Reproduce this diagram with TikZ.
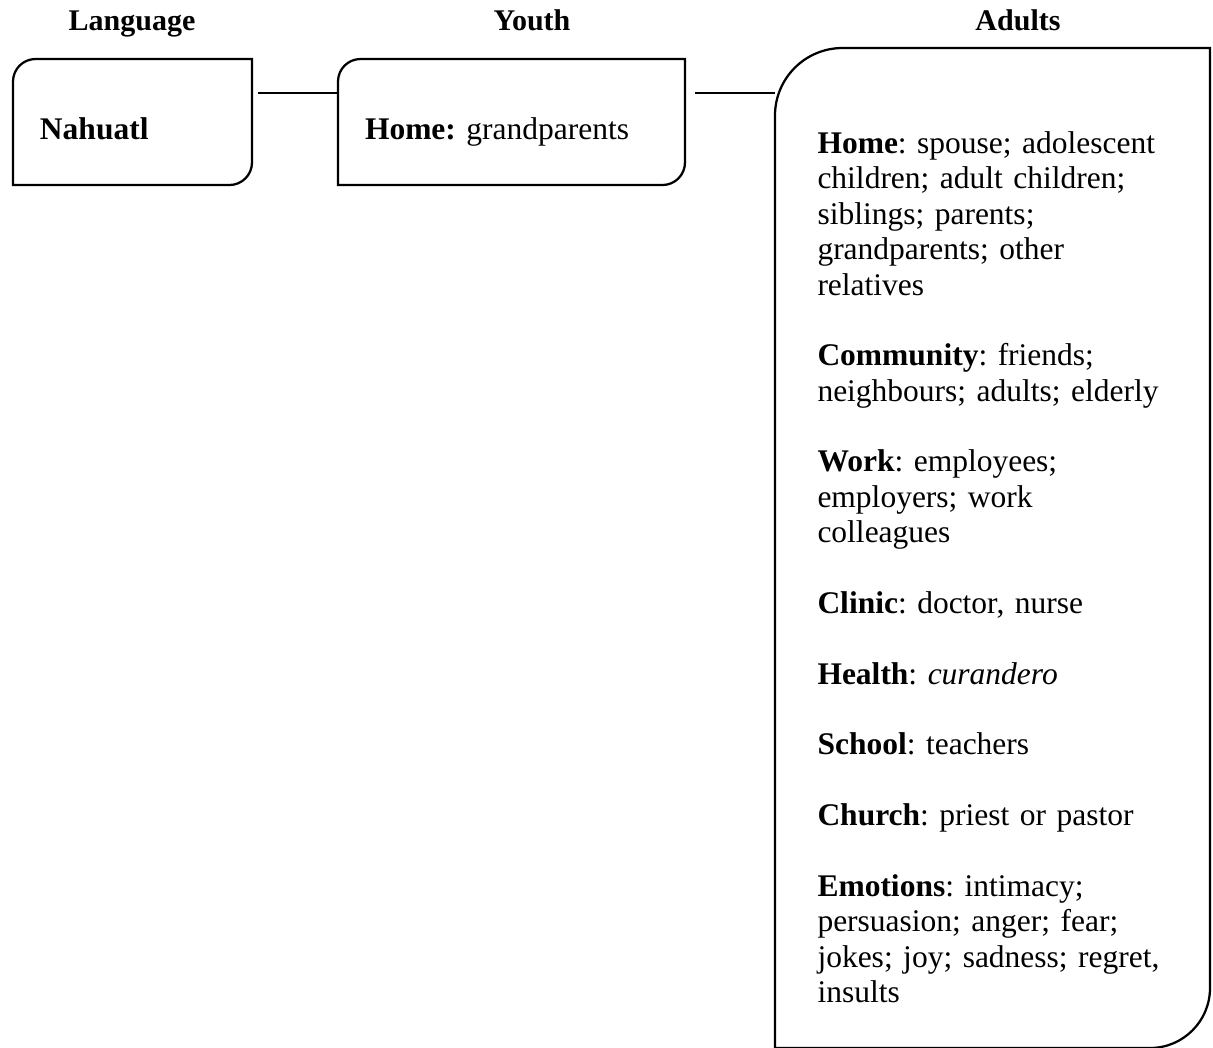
\documentclass[tikz,border=0pt]{standalone}
\usepackage{fontspec}
\setmainfont{Liberation Serif}
\usetikzlibrary{positioning}
\tikzstyle{head} = [font=\fontsize{12pt}{14pt}\selectfont\bfseries, anchor=base, inner sep=0pt]
\tikzstyle{box} = [inner ysep=0pt, align=left, font=\fontsize{12.6pt}{14.15pt}\selectfont\frenchspacing]
\tikzstyle{link} = [line width=0.55pt]
\tikzstyle{frame} = [line width=0.9pt]

% outline with round top-left and bottom-right corners
\newcommand{\cornerbox}[3]{%
  \draw [frame] ([xshift=#2]#1.north west) -- (#1.north east) -- ([yshift=#3]#1.south east)
    arc[start angle=0, end angle=-90, radius=#3] -- (#1.south west) -- ([yshift=-#2]#1.north west)
    arc[start angle=180, end angle=90, radius=#2] -- cycle;}

\begin{document}
\begin{tikzpicture}
\useasboundingbox (0,0) rectangle (485.2pt,-418.8pt);

% Headings
\node (langhead) [head] at (52.8pt,-12pt) {Language};
\node (youthhead) [head] at (212.8pt,-12pt) {Youth};
\node (adulthead) [head] at (407.2pt,-12pt) {Adults};

% Boxes
\node (lang) [box, anchor=north west, inner xsep=10.6pt, text width=74pt, text height=32pt, text depth=18pt] at (5.2pt,-23.6pt) {\textbf{Nahuatl}};
\node (youth) [box, right=34.4pt of lang.north east, anchor=north west, inner xsep=10.6pt, text width=117.2pt, text height=32pt, text depth=18pt] {\textbf{Home:} grandparents};
\node (adults) [box, anchor=north west, inner xsep=16.8pt, text width=140pt, text height=42pt, text depth=357.6pt] at ([xshift=36pt,yshift=4.4pt]youth.north east) {%
\textbf{Home}: spouse; adolescent\\
children; adult children;\\
siblings; parents;\\
grandparents; other\\
relatives\\[14.15pt]
\textbf{Community}: friends;\\
neighbours; adults; elderly\\[14.15pt]
\textbf{Work}: employees;\\
employers; work\\
colleagues\\[14.15pt]
\textbf{Clinic}: doctor, nurse\\[14.15pt]
\textbf{Health}: \textit{curandero}\\[14.15pt]
\textbf{School}: teachers\\[14.15pt]
\textbf{Church}: priest or pastor\\[14.15pt]
\textbf{Emotions}: intimacy;\\
persuasion; anger; fear;\\
jokes; joy; sadness; regret,\\
insults};

\cornerbox{lang}{9pt}{9pt}
\cornerbox{youth}{9pt}{9pt}
\cornerbox{adults}{27pt}{24pt}

% Links
\draw [link] ([shift={(2.4pt,-13.6pt)}]lang.north east) -- ([yshift=-13.6pt]youth.north west);
\draw [link] ([shift={(4pt,-13.6pt)}]youth.north east) -- ([yshift=-18pt]adults.north west);

\end{tikzpicture}
\end{document}
